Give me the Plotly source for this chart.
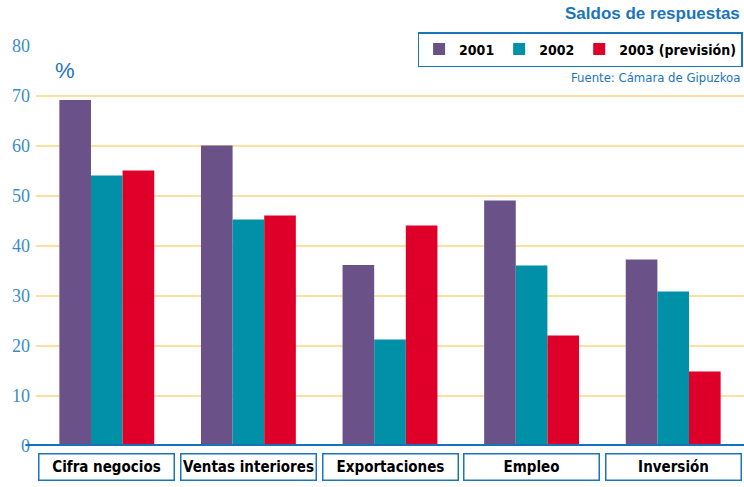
import plotly.graph_objects as go

categories = ["Cifra negocios", "Ventas interiores", "Exportaciones", "Empleo", "Inversión"]
series_names = ["2001", "2002", "2003 (previsión)"]
v2001 = [69.2, 60.1, 36.2, 49.1, 37.3]
v2002 = [54.1, 45.3, 21.3, 36.1, 30.9]
v2003 = [55.1, 46.1, 44.1, 22.1, 14.9]
y_ticks = [0, 10, 20, 30, 40, 50, 60, 70, 80]

colors = ["#6A5289", "#0090A8", "#DE0029"]
blue = "#1B75BB"
narrow = "DejaVu Sans Condensed, Liberation Sans Narrow, Arial Narrow, sans-serif"

fig = go.Figure()
for name, vals, c in zip(series_names, [v2001, v2002, v2003], colors):
    fig.add_trace(go.Bar(x=categories, y=vals, name=name, marker=dict(color=c, line=dict(width=0))))

fig.update_layout(
    width=744, height=487,
    margin=dict(l=36, r=0, t=46, b=41),
    paper_bgcolor="white", plot_bgcolor="white",
    barmode="group", bargap=0.33, bargroupgap=0,
    showlegend=True,
    legend=dict(orientation="h", x=0.998, xanchor="right", y=1.035, yanchor="top",
                bgcolor="white", bordercolor=blue, borderwidth=1.5,
                font=dict(family=narrow, size=14, color="black", weight="bold"),
                traceorder="normal", itemwidth=30,
                tracegroupgap=0),
    xaxis=dict(showticklabels=False, showgrid=False, zeroline=False, showline=False,
               range=[-0.5, 4.5]),
    yaxis=dict(range=[0, 80], tickvals=y_ticks, showgrid=True, gridcolor="#FBE0A0", gridwidth=1.5,
               zeroline=False, showline=False, ticks="", ticklabelstandoff=5,
               tickfont=dict(family="Liberation Serif, Times New Roman, serif", size=18, color="#3A8CC6")),
)

# thick baseline
fig.add_shape(type="line", xref="paper", yref="y", x0=-0.015, x1=1, y0=0, y1=0,
              line=dict(color="#1570BE", width=4), layer="above")

# category label boxes
for cat in categories:
    fig.add_annotation(x=cat, xref="x", y=0, yref="paper", yanchor="top", yshift=-7,
                       text=cat, showarrow=False, width=131, height=22, borderpad=1.5,
                       bordercolor=blue, borderwidth=1.5, bgcolor="white",
                       font=dict(family=narrow, size=15, color="black", weight="bold"))

fig.add_annotation(text="Saldos de respuestas", xref="paper", yref="paper", x=1, xanchor="right",
                   y=1.08, yanchor="middle", xshift=-2, showarrow=False,
                   font=dict(family="Liberation Sans, Arial", size=17, color=blue, weight="bold"))
fig.add_annotation(text="Fuente: Cámara de Gipuzkoa", xref="paper", yref="paper", x=1, xanchor="right",
                   y=0.92, yanchor="middle", xshift=-2, showarrow=False,
                   font=dict(family=narrow, size=13, color=blue))
fig.add_annotation(text="%", xref="paper", yref="paper", x=0.041, xanchor="center",
                   y=0.94, yanchor="middle", showarrow=False,
                   font=dict(family="Liberation Sans, Arial", size=22, color=blue))

fig.write_html("out.html", config={"displayModeBar": False},
               post_script="document.body.style.margin='0';document.body.style.overflow='hidden';")
